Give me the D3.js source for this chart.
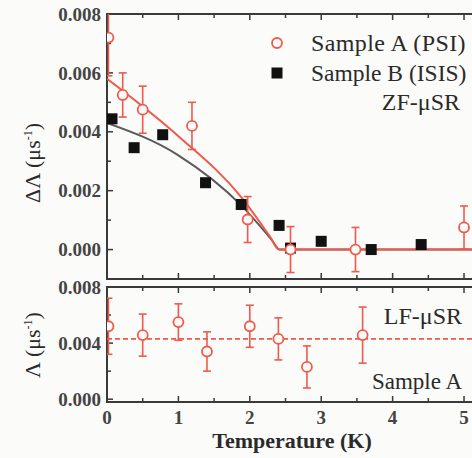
<!DOCTYPE html>
<html>
<head>
<meta charset="utf-8">
<script src="https://cdn.jsdelivr.net/npm/d3@7"></script>
<style>
  html, body { margin: 0; padding: 0; background: #fbfbf9; }
  svg { display: block; }
  svg text { font-family: "Liberation Serif", "Times New Roman", Tinos, "DejaVu Serif", "Noto Serif", serif; }
</style>
</head>
<body>
<svg id="chart" width="472" height="458"></svg>
<script>
// ZF panel, sample A (PSI): temperature, value, error
const zfA_T   = [0.02, 0.22, 0.50, 1.19, 1.97, 2.57, 3.48, 5.00];
const zfA_val = [0.0072, 0.00525, 0.00475, 0.0042, 0.00102, 0.0, 0.0, 0.00075];
const zfA_err = [0.0013, 0.00075, 0.0008, 0.0008, 0.00078, 0.00078, 0.00075, 0.00073];

// ZF panel, sample B (ISIS)
const zfB_T   = [0.07, 0.38, 0.78, 1.38, 1.88, 2.41, 2.57, 3.00, 3.70, 4.40];
const zfB_val = [0.00444, 0.00346, 0.0039, 0.00227, 0.00153, 0.00082, 0.00005, 0.00028, 0.0, 0.00017];

// fit curves
const fitA_T   = [0, 1.0, 1.88, 2.28, 2.41, 5.4];
const fitA_val = [0.0058, 0.00385, 0.00178, 0.00045, 0.0, 0.0];
const fitB_T   = [0, 1.0, 1.88, 2.3, 2.42, 5.4];
const fitB_val = [0.0043, 0.0032, 0.0015, 0.00035, 0.0, 0.0];

// LF panel, sample A
const lf_T   = [0.02, 0.50, 1.00, 1.40, 2.00, 2.40, 2.80, 3.58];
const lf_val = [0.0052, 0.00457, 0.0055, 0.0034, 0.0052, 0.0043, 0.0023, 0.00457];
const lf_err = [0.002, 0.0015, 0.0013, 0.0014, 0.0015, 0.0015, 0.0015, 0.002];
const lf_mean = 0.0043;

const xTicks = [0, 1, 2, 3, 4, 5];
const zfTicks = [0.000, 0.002, 0.004, 0.006, 0.008];
const lfTicks = [0.000, 0.004, 0.008];

const red = "#ee5a4c";
const frame = "#3a3a3a";

const svg = d3.select("#chart");

const x = d3.scaleLinear().domain([0, 5.2]).range([107, 478.3]);
const yTop = d3.scaleLinear().domain([-0.001, 0.008]).range([279, 14]);
const yBot = d3.scaleLinear().domain([-0.0002, 0.008]).range([402, 287]);

// draw a boxed panel with inward ticks
function panel(y, majors, minorStep) {
  const g = svg.append("g");
  const [y0, y1] = y.range();
  g.append("rect")
    .attr("x", x(0)).attr("y", y1)
    .attr("width", x.range()[1] - x(0)).attr("height", y0 - y1)
    .attr("fill", "none").attr("stroke", frame).attr("stroke-width", 2);

  // x ticks top & bottom, inward
  const xt = d3.range(0, 5.21, 0.5);
  xt.forEach(t => {
    const len = Math.abs(t - Math.round(t)) < 1e-6 ? 6 : 4;
    g.append("line").attr("x1", x(t)).attr("x2", x(t)).attr("y1", y0).attr("y2", y0 - len)
      .attr("stroke", frame).attr("stroke-width", 1.5);
    g.append("line").attr("x1", x(t)).attr("x2", x(t)).attr("y1", y1).attr("y2", y1 + len)
      .attr("stroke", frame).attr("stroke-width", 1.5);
  });

  // y ticks, inward
  const yt = d3.range(0, 0.00801, minorStep);
  yt.forEach(v => {
    const isMajor = majors.some(m => Math.abs(m - v) < 1e-9);
    g.append("line").attr("x1", x(0)).attr("x2", x(0) + (isMajor ? 6 : 4))
      .attr("y1", y(v)).attr("y2", y(v))
      .attr("stroke", frame).attr("stroke-width", 1.5);
  });

  g.selectAll("text.ytick").data(majors).enter().append("text")
    .attr("class", "ytick")
    .attr("x", x(0) - 6).attr("y", d => y(d)).attr("dy", "0.35em")
    .attr("text-anchor", "end").attr("font-size", 19).attr("font-weight", "bold")
    .attr("fill", "#444")
    .text(d => d3.format(".3f")(d));
  return g;
}

panel(yTop, zfTicks, 0.001);
panel(yBot, lfTicks, 0.002);

// x tick labels
svg.selectAll("text.xtick").data(xTicks).enter().append("text")
  .attr("class", "xtick")
  .attr("x", d => x(d)).attr("y", 424)
  .attr("text-anchor", "middle").attr("font-size", 19).attr("font-weight", "bold")
  .attr("fill", "#444")
  .text(d => d);

// clip to plot
const defs = svg.append("defs");
defs.append("clipPath").attr("id", "clipTop").append("rect")
  .attr("x", x(0)).attr("y", 14).attr("width", 400).attr("height", 265);
defs.append("clipPath").attr("id", "clipBot").append("rect")
  .attr("x", x(0)).attr("y", 287).attr("width", 400).attr("height", 115);

const zfPanel = svg.append("g").attr("clip-path", "url(#clipTop)");

const line = d3.line().curve(d3.curveMonotoneX);

zfPanel.append("path")
  .attr("d", line.x(d => x(d[0])).y(d => yTop(d[1]))(d3.zip(fitB_T, fitB_val)))
  .attr("fill", "none").attr("stroke", "#5a5a5a").attr("stroke-width", 2);
zfPanel.append("path")
  .attr("d", line.x(d => x(d[0])).y(d => yTop(d[1]))(d3.zip(fitA_T, fitA_val)))
  .attr("fill", "none").attr("stroke", red).attr("stroke-width", 2);

// sample B squares
const zfB = d3.zip(zfB_T, zfB_val);
zfPanel.selectAll("rect.sqB").data(zfB).enter().append("rect")
  .attr("class", "sqB")
  .attr("x", d => x(d[0]) - 5.5).attr("y", d => yTop(d[1]) - 5.5)
  .attr("width", 11).attr("height", 11).attr("fill", "#111");

// error bars with caps
function errorBars(g, data, y) {
  const eb = g.selectAll("g.eb").data(data).enter().append("g").attr("class", "eb")
    .attr("stroke", red).attr("stroke-width", 1.6);
  eb.append("line").attr("x1", d => x(d[0])).attr("x2", d => x(d[0]))
    .attr("y1", d => y(d[1] - d[2])).attr("y2", d => y(d[1] + d[2]));
  eb.append("line").attr("x1", d => x(d[0]) - 4).attr("x2", d => x(d[0]) + 4)
    .attr("y1", d => y(d[1] - d[2])).attr("y2", d => y(d[1] - d[2]));
  eb.append("line").attr("x1", d => x(d[0]) - 4).attr("x2", d => x(d[0]) + 4)
    .attr("y1", d => y(d[1] + d[2])).attr("y2", d => y(d[1] + d[2]));
  g.selectAll("circle.pt").data(data).enter().append("circle")
    .attr("class", "pt")
    .attr("cx", d => x(d[0])).attr("cy", d => y(d[1])).attr("r", 5)
    .attr("fill", "#fbfbf9").attr("stroke", red).attr("stroke-width", 1.8);
}

errorBars(zfPanel, d3.zip(zfA_T, zfA_val, zfA_err), yTop);

// LF panel
const lfPanel = svg.append("g").attr("clip-path", "url(#clipBot)");
lfPanel.append("line")
  .attr("x1", x(0)).attr("x2", x(5.2))
  .attr("y1", yBot(lf_mean)).attr("y2", yBot(lf_mean))
  .attr("stroke", red).attr("stroke-width", 1.8).attr("stroke-dasharray", "5,3");
errorBars(lfPanel, d3.zip(lf_T, lf_val, lf_err), yBot);

// legend
const textFill = "#2a2a2a";
svg.append("circle").attr("cx", 277).attr("cy", 43).attr("r", 5)
  .attr("fill", "none").attr("stroke", red).attr("stroke-width", 1.8);
svg.append("text").attr("x", 311).attr("y", 51).attr("font-size", 24).attr("letter-spacing", 0.4)
  .attr("fill", textFill).text("Sample A (PSI)");
svg.append("rect").attr("x", 271.5).attr("y", 67.5).attr("width", 11).attr("height", 11).attr("fill", "#111");
svg.append("text").attr("x", 311).attr("y", 81).attr("font-size", 23.5)
  .attr("fill", textFill).text("Sample B (ISIS)");
svg.append("text").attr("x", 460).attr("y", 110).attr("font-size", 24).attr("fill", textFill)
  .attr("text-anchor", "end").text("ZF-μSR");

svg.append("text").attr("x", 462).attr("y", 324).attr("font-size", 24).attr("fill", textFill)
  .attr("text-anchor", "end").text("LF-μSR");
svg.append("text").attr("x", 462).attr("y", 389).attr("font-size", 23).attr("fill", textFill)
  .attr("text-anchor", "end").text("Sample A");

// axis titles
svg.append("text").attr("x", 292).attr("y", 448).attr("font-size", 22).attr("font-weight", "bold")
  .attr("fill", textFill).attr("text-anchor", "middle").text("Temperature (K)");

function yTitle(cx, cy, prefix) {
  const t = svg.append("text")
    .attr("transform", `translate(${cx},${cy}) rotate(-90)`)
    .attr("text-anchor", "middle").attr("font-size", 22).attr("fill", textFill);
  t.append("tspan").text(prefix + " (μs");
  t.append("tspan").attr("font-size", 12).attr("dy", -8).text("-1");
  t.append("tspan").attr("dy", 8).text(")");
}
yTitle(40, 163, "ΔΛ");
yTitle(40, 345, "Λ");
</script>
</body>
</html>
